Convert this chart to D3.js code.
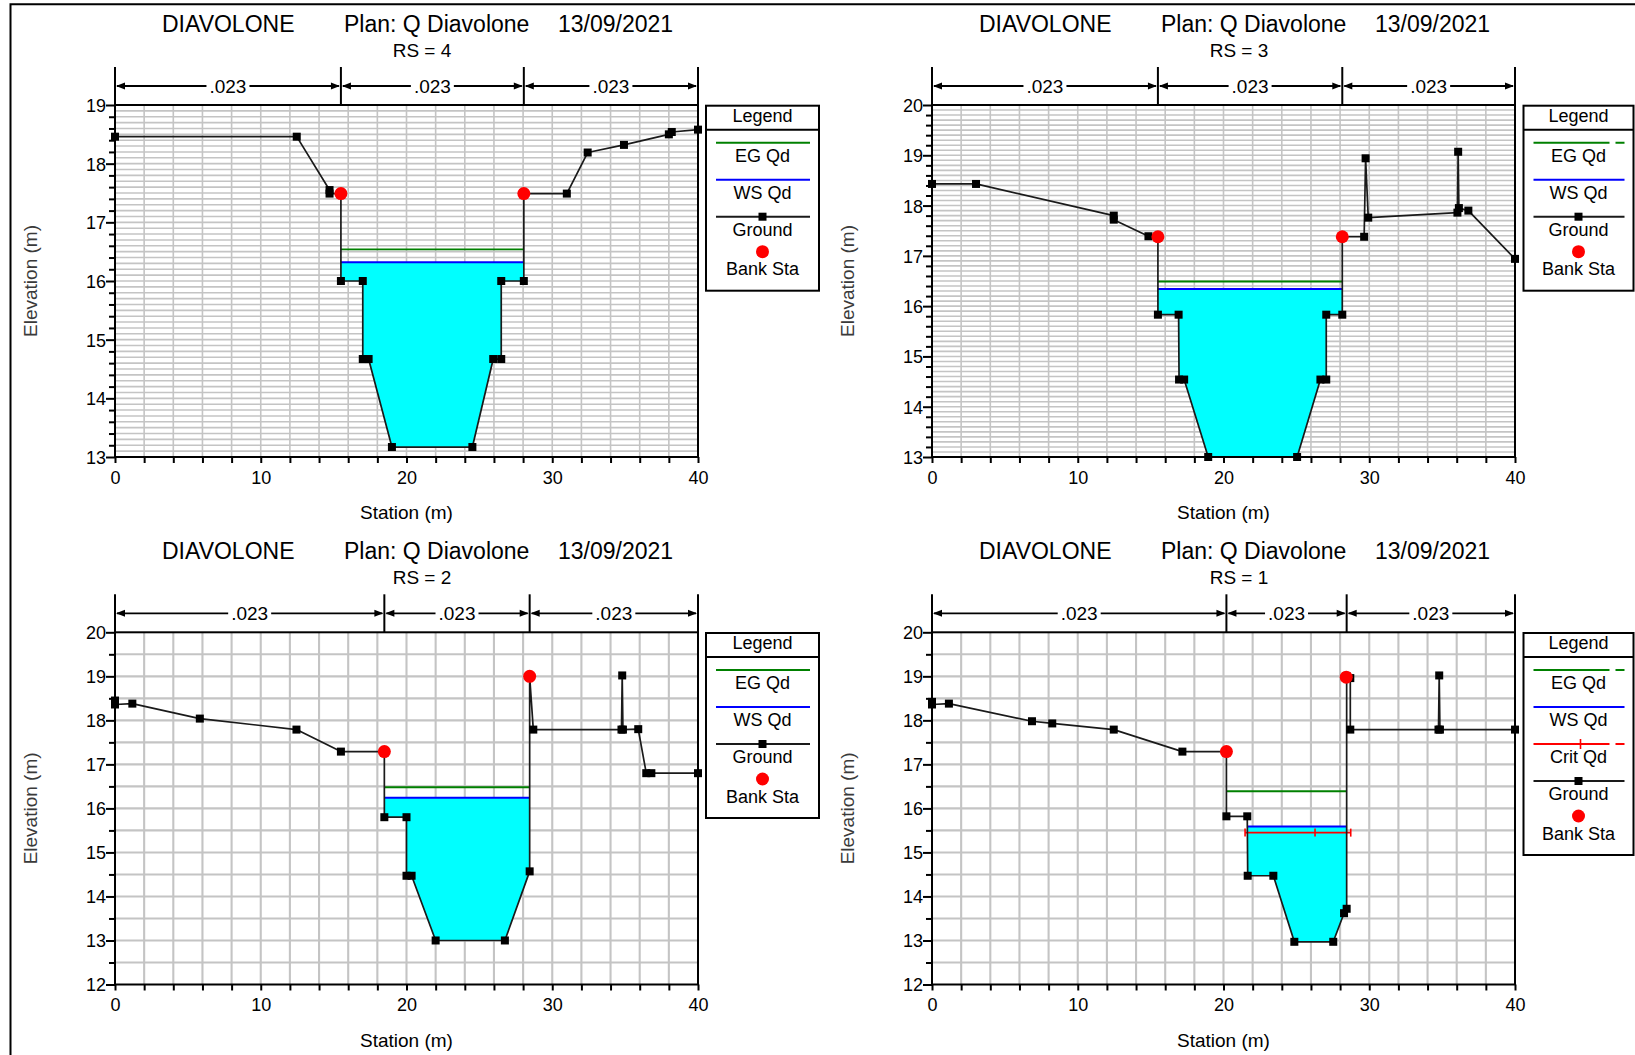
<!DOCTYPE html>
<html>
<head>
<meta charset="utf-8">
<script src="https://cdn.jsdelivr.net/npm/d3@7"></script>
<style>
  body { margin: 0; background: #fff; }
  svg { display: block; }
  text { font-family: "Liberation Sans", Arial, Helvetica, sans-serif; }
</style>
</head>
<body>
<svg id="chart" width="1635" height="1055"></svg>
<script>
// ---------------- DATA ----------------
const titleRiver = "DIAVOLONE";
const titlePlan = "Plan: Q Diavolone";
const titleDate = "13/09/2021";
const xAxisTitle = "Station (m)";
const yAxisTitle = "Elevation (m)";
const stationDomain = [0, 40];
const xTickLabels = [0, 10, 20, 30, 40];
const manningN = [".023", ".023", ".023"];

// RS = 4
const rs4Station   = [0, 12.47, 14.72, 14.72, 15.5, 15.5, 17.0, 17.0, 17.4, 19.0, 24.52, 25.95, 26.5, 26.5, 28.05, 28.05, 31.0, 32.43, 34.92, 38.0, 38.2, 40];
const rs4Elevation = [18.46, 18.46, 17.55, 17.49, 17.49, 16.0, 16.0, 14.67, 14.67, 13.17, 13.17, 14.67, 14.67, 16.0, 16.0, 17.49, 17.49, 18.19, 18.32, 18.5, 18.54, 18.58];
const rs4BankStation = [15.5, 28.05];
const rs4BankElevation = [17.49, 17.49];
const rs4WS = 16.32, rs4EG = 16.54;
const rs4WaterExtent = [15.5, 28.05];
const rs4NBreaks = [0, 15.5, 28.05, 40];
const rs4YRange = [13, 19];

// RS = 3
const rs3Station   = [0, 3.02, 12.47, 12.47, 14.85, 15.5, 15.5, 16.92, 16.95, 17.3, 18.95, 25.05, 26.65, 27.05, 27.05, 28.15, 28.15, 29.65, 29.75, 29.93, 36.05, 36.1, 36.15, 36.8, 40];
const rs3Elevation = [18.43, 18.43, 17.8, 17.72, 17.39, 17.38, 15.83, 15.83, 14.54, 14.54, 13.0, 13.0, 14.54, 14.54, 15.83, 15.83, 17.38, 17.38, 18.94, 17.76, 17.86, 19.07, 17.95, 17.9, 16.94];
const rs3BankStation = [15.5, 28.15];
const rs3BankElevation = [17.38, 17.38];
const rs3WS = 16.34, rs3EG = 16.49;
const rs3WaterExtent = [15.5, 28.15];
const rs3NBreaks = [0, 15.5, 28.15, 40];
const rs3YRange = [13, 20];

// RS = 2
const rs2Station   = [0, 0, 1.19, 5.82, 12.45, 15.5, 18.48, 18.48, 20.0, 20.0, 20.35, 22.0, 26.75, 28.45, 28.45, 28.7, 34.75, 34.8, 34.85, 35.9, 36.45, 36.8, 40];
const rs2Elevation = [18.45, 18.36, 18.38, 18.04, 17.79, 17.29, 17.29, 15.8, 15.8, 14.47, 14.47, 13.0, 13.0, 14.57, 19.0, 17.79, 17.79, 19.02, 17.79, 17.8, 16.8, 16.8, 16.8];
const rs2BankStation = [18.48, 28.45];
const rs2BankElevation = [17.29, 19.0];
const rs2WS = 16.24, rs2EG = 16.48;
const rs2WaterExtent = [18.48, 28.45];
const rs2NBreaks = [0, 18.48, 28.45, 40];
const rs2YRange = [12, 20];

// RS = 1
const rs1Station   = [0, 0, 1.16, 6.86, 8.25, 12.47, 17.18, 20.2, 20.2, 21.63, 21.66, 23.42, 24.86, 27.53, 28.27, 28.45, 28.45, 28.7, 28.7, 34.75, 34.8, 34.85, 40];
const rs1Elevation = [18.42, 18.36, 18.38, 17.98, 17.93, 17.79, 17.29, 17.29, 15.82, 15.82, 14.47, 14.47, 12.97, 12.97, 13.62, 13.72, 19.0, 18.96, 17.79, 17.79, 19.02, 17.79, 17.79];
const rs1BankStation = [20.2, 28.42];
const rs1BankElevation = [17.29, 18.98];
const rs1WS = 15.59, rs1EG = 16.39, rs1Crit = 15.45;
const rs1WaterExtent = [21.66, 28.45];
const rs1EGExtent = [20.2, 28.45];
const rs1CritExtent = [21.48, 28.73];
const rs1CritMid = 26.28;
const rs1NBreaks = [0, 20.2, 28.45, 40];
const rs1YRange = [12, 20];

const legendBasic = ["EG Qd", "WS Qd", "Ground", "Bank Sta"];
const legendCrit = ["EG Qd", "WS Qd", "Crit Qd", "Ground", "Bank Sta"];

// -------------- SECTIONS (built from the arrays) --------------
const sections = [
  { rs: "4", station: rs4Station, elevation: rs4Elevation, bankSt: rs4BankStation, bankEl: rs4BankElevation,
    ws: rs4WS, eg: rs4EG, water: rs4WaterExtent, egExt: rs4WaterExtent, nBreaks: rs4NBreaks, yRange: rs4YRange,
    gridStep: 0.1, tickStep: 0.2, gridW: 1.6, legend: legendBasic, dashedLegend: false },
  { rs: "3", station: rs3Station, elevation: rs3Elevation, bankSt: rs3BankStation, bankEl: rs3BankElevation,
    ws: rs3WS, eg: rs3EG, water: rs3WaterExtent, egExt: rs3WaterExtent, nBreaks: rs3NBreaks, yRange: rs3YRange,
    gridStep: 0.1, tickStep: 0.2, gridW: 1.6, legend: legendBasic, dashedLegend: true },
  { rs: "2", station: rs2Station, elevation: rs2Elevation, bankSt: rs2BankStation, bankEl: rs2BankElevation,
    ws: rs2WS, eg: rs2EG, water: rs2WaterExtent, egExt: rs2WaterExtent, nBreaks: rs2NBreaks, yRange: rs2YRange,
    gridStep: 0.5, tickStep: 0.5, gridW: 2.1, legend: legendBasic, dashedLegend: false },
  { rs: "1", station: rs1Station, elevation: rs1Elevation, bankSt: rs1BankStation, bankEl: rs1BankElevation,
    ws: rs1WS, eg: rs1EG, water: rs1WaterExtent, egExt: rs1EGExtent, nBreaks: rs1NBreaks, yRange: rs1YRange,
    crit: rs1Crit, critExt: rs1CritExtent, critMid: rs1CritMid,
    gridStep: 0.5, tickStep: 0.5, gridW: 2.1, legend: legendCrit, dashedLegend: true }
];

// -------------- LAYOUT --------------
const W = 1635, H = 1055;
const layout = [
  { x0: 115, x1: 698,  yT: 105,   yB: 457,   lx: 706,    lw: 113 },
  { x0: 932, x1: 1515, yT: 105,   yB: 457,   lx: 1523.5, lw: 110 },
  { x0: 115, x1: 698,  yT: 632.3, yB: 984.5, lx: 706,    lw: 113 },
  { x0: 932, x1: 1515, yT: 632.3, yB: 984.5, lx: 1523.5, lw: 110 }
];
const FONT = '"Liberation Sans", Arial, Helvetica, sans-serif';
const colors = { eg: "#008000", ws: "#0000ff", crit: "#ff0000", ground: "#1a1a1a", water: "#00ffff", bank: "#ff0000", grid: "#c4c4c4" };

const svg = d3.select("#chart");
svg.append("rect").attr("width", W).attr("height", H).attr("fill", "#fff");
const defs = svg.append("defs");

// outer frame
svg.append("path").attr("d", `M10.5,${H} V4.3 H${W}`).attr("fill", "none").attr("stroke", "#000").attr("stroke-width", 2);

function txt(g, x, y, s, size, anchor, fill) {
  return g.append("text").attr("x", x).attr("y", y).text(s)
    .attr("font-size", size).attr("font-family", FONT)
    .attr("text-anchor", anchor || "start").attr("fill", fill || "#000");
}

function steps(lo, hi, step) {
  const n = Math.round((hi - lo) / step);
  return d3.range(0, n + 1).map(k => +(lo + k * step).toFixed(3));
}
const isInt = d => Math.abs(d - Math.round(d)) < 1e-6;

sections.forEach((s, i) => {
  const L = layout[i];
  const x = d3.scaleLinear().domain(stationDomain).range([L.x0, L.x1]);
  const y = d3.scaleLinear().domain(s.yRange).range([L.yB, L.yT]);
  const g = svg.append("g");

  // titles
  txt(g, L.x0 + 47, L.yT - 73, titleRiver, 23);
  txt(g, L.x0 + 229, L.yT - 73, titlePlan, 23);
  txt(g, L.x0 + 443, L.yT - 73, titleDate, 23);
  txt(g, L.x0 + 307, L.yT - 48, "RS = " + s.rs, 19, "middle");

  // grid
  const gridX = steps(stationDomain[0], stationDomain[1], 2).slice(1, -1);
  g.append("g").selectAll("line").data(gridX).join("line")
    .attr("x1", d => x(d)).attr("x2", d => x(d)).attr("y1", L.yT).attr("y2", L.yB)
    .attr("stroke", colors.grid).attr("stroke-width", s.gridW);
  const gridY = steps(s.yRange[0], s.yRange[1], s.gridStep).slice(1, -1);
  g.append("g").selectAll("line").data(gridY).join("line")
    .attr("x1", L.x0).attr("x2", L.x1).attr("y1", d => y(d)).attr("y2", d => y(d))
    .attr("stroke", colors.grid).attr("stroke-width", s.gridW);

  // water fill: region below WS and above ground, limited to water extent
  const pts = s.station.map((st, k) => [x(st), y(s.elevation[k])]);
  const clipPts = pts.concat([[x(s.station[s.station.length - 1]), L.yT - 60], [x(s.station[0]), L.yT - 60]]);
  const clipId = "above" + i;
  defs.append("clipPath").attr("id", clipId).append("polygon")
    .attr("points", clipPts.map(p => p.join(",")).join(" "));
  g.append("rect")
    .attr("x", x(s.water[0])).attr("width", x(s.water[1]) - x(s.water[0]))
    .attr("y", y(s.ws)).attr("height", L.yB - y(s.ws))
    .attr("fill", colors.water).attr("clip-path", `url(#${clipId})`);

  // EG
  g.append("line").attr("x1", x(s.egExt[0])).attr("x2", x(s.egExt[1]))
    .attr("y1", y(s.eg)).attr("y2", y(s.eg)).attr("stroke", colors.eg).attr("stroke-width", 1.8);
  // WS
  g.append("line").attr("x1", x(s.water[0])).attr("x2", x(s.water[1]))
    .attr("y1", y(s.ws)).attr("y2", y(s.ws)).attr("stroke", colors.ws).attr("stroke-width", 2);
  // Critical
  if (s.crit !== undefined) {
    g.append("line").attr("x1", x(s.critExt[0])).attr("x2", x(s.critExt[1]))
      .attr("y1", y(s.crit)).attr("y2", y(s.crit)).attr("stroke", colors.crit).attr("stroke-width", 1.6);
    g.append("g").selectAll("line").data([s.critExt[0], s.critMid, s.critExt[1]]).join("line")
      .attr("x1", d => x(d)).attr("x2", d => x(d)).attr("y1", y(s.crit) - 4).attr("y2", y(s.crit) + 4)
      .attr("stroke", colors.crit).attr("stroke-width", 1.6);
  }

  // ground
  g.append("path").attr("d", d3.line()(pts)).attr("fill", "none")
    .attr("stroke", colors.ground).attr("stroke-width", 1.7).attr("stroke-linejoin", "round");
  g.append("g").selectAll("rect").data(pts).join("rect")
    .attr("x", d => d[0] - 4).attr("y", d => d[1] - 4).attr("width", 8).attr("height", 8).attr("fill", "#000");

  // bank stations
  g.append("g").selectAll("circle").data(s.bankSt).join("circle")
    .attr("cx", d => x(d)).attr("cy", (d, k) => y(s.bankEl[k])).attr("r", 6.5).attr("fill", colors.bank);

  // plot border
  g.append("rect").attr("x", L.x0).attr("y", L.yT).attr("width", L.x1 - L.x0).attr("height", L.yB - L.yT)
    .attr("fill", "none").attr("stroke", "#000").attr("stroke-width", 2);

  // x axis
  const xAxis = d3.axisBottom(x).tickValues(steps(0, 40, 2)).tickSize(6)
    .tickFormat(d => xTickLabels.includes(d) ? String(d) : "");
  const gx = g.append("g").attr("transform", `translate(0,${L.yB})`).call(xAxis);
  gx.select(".domain").remove();
  gx.selectAll(".tick line").attr("stroke", "#000").attr("stroke-width", 2);
  gx.selectAll(".tick text").attr("y", 26.5).attr("dy", null)
    .attr("font-size", 18).attr("font-family", FONT).attr("fill", "#000");

  // y axis
  const yAxis = d3.axisLeft(y).tickValues(steps(s.yRange[0], s.yRange[1], s.tickStep)).tickSize(6)
    .tickFormat(d => isInt(d) ? String(Math.round(d)) : "");
  const gy = g.append("g").attr("transform", `translate(${L.x0},0)`).call(yAxis);
  gy.select(".domain").remove();
  gy.selectAll(".tick line").attr("x2", d => isInt(d) ? -9 : -6).attr("stroke", "#000").attr("stroke-width", 2);
  gy.selectAll(".tick text").attr("x", -9).attr("dy", "0.36em")
    .attr("font-size", 18).attr("font-family", FONT).attr("fill", "#000");

  // axis titles
  txt(g, (L.x0 + L.x1) / 2, L.yB + 62, xAxisTitle, 19, "middle");
  txt(g, 0, 0, yAxisTitle, 19, "middle", "#3a3a3a")
    .attr("transform", `translate(${L.x0 - 78},${(L.yT + L.yB) / 2}) rotate(-90)`);

  // Manning's n bars
  const nb = g.append("g");
  const barTop = L.yT - 38, arrowY = L.yT - 19;
  nb.selectAll("line.v").data(s.nBreaks).join("line")
    .attr("x1", d => x(d)).attr("x2", d => x(d)).attr("y1", barTop).attr("y2", L.yT)
    .attr("stroke", "#000").attr("stroke-width", 2);
  d3.pairs(s.nBreaks).forEach(([a, b], k) => {
    const xa = x(a), xb = x(b);
    nb.append("line").attr("x1", xa + 2).attr("x2", xb - 2).attr("y1", arrowY).attr("y2", arrowY)
      .attr("stroke", "#000").attr("stroke-width", 1.8);
    nb.append("path").attr("d", `M${xa + 1},${arrowY} L${xa + 10},${arrowY - 3.5} L${xa + 10},${arrowY + 3.5} Z`).attr("fill", "#000");
    nb.append("path").attr("d", `M${xb - 1},${arrowY} L${xb - 10},${arrowY - 3.5} L${xb - 10},${arrowY + 3.5} Z`).attr("fill", "#000");
    const t = txt(nb, (xa + xb) / 2, arrowY + 7, manningN[k], 19, "middle");
    const w = t.node().getComputedTextLength();
    nb.insert("rect", () => t.node())
      .attr("x", (xa + xb) / 2 - w / 2 - 3).attr("width", w + 6)
      .attr("y", arrowY - 3).attr("height", 6).attr("fill", "#fff");
  });

  // legend
  const T = L.yT + 0.7;
  const n = s.legend.length;
  const lg = g.append("g");
  lg.append("rect").attr("x", L.lx).attr("y", T).attr("width", L.lw).attr("height", 37 * n + 37)
    .attr("fill", "#fff").attr("stroke", "#000").attr("stroke-width", 2);
  lg.append("line").attr("x1", L.lx).attr("x2", L.lx + L.lw).attr("y1", T + 24).attr("y2", T + 24)
    .attr("stroke", "#000").attr("stroke-width", 2);
  const cx = L.lx + L.lw / 2;
  txt(lg, cx, T + 16, "Legend", 18, "middle");
  const lx1 = L.lx + 10, lx2 = L.lx + L.lw - 9;
  s.legend.forEach((name, k) => {
    const ly = T + 37 * (k + 1);
    if (name === "Bank Sta") {
      lg.append("circle").attr("cx", cx).attr("cy", ly - 2).attr("r", 6.5).attr("fill", colors.bank);
      txt(lg, cx, ly + 21.5, name, 18, "middle");
      return;
    }
    let col = colors.ground, dash = null;
    if (name === "EG Qd") { col = colors.eg; if (s.dashedLegend) dash = "76,6,12"; }
    if (name === "WS Qd") col = colors.ws;
    if (name === "Crit Qd") { col = colors.crit; dash = "76,6,12"; }
    lg.append("line").attr("x1", lx1).attr("x2", lx2).attr("y1", ly).attr("y2", ly)
      .attr("stroke", col).attr("stroke-width", 2).attr("stroke-dasharray", dash);
    if (name === "Ground") {
      lg.append("rect").attr("x", cx - 4).attr("y", ly - 4).attr("width", 8).attr("height", 8).attr("fill", "#000");
    }
    if (name === "Crit Qd") {
      lg.append("line").attr("x1", cx + 2).attr("x2", cx + 2).attr("y1", ly - 5).attr("y2", ly + 5)
        .attr("stroke", col).attr("stroke-width", 1.6);
    }
    txt(lg, cx, ly + 19, name, 18, "middle");
  });
});
</script>
</body>
</html>
